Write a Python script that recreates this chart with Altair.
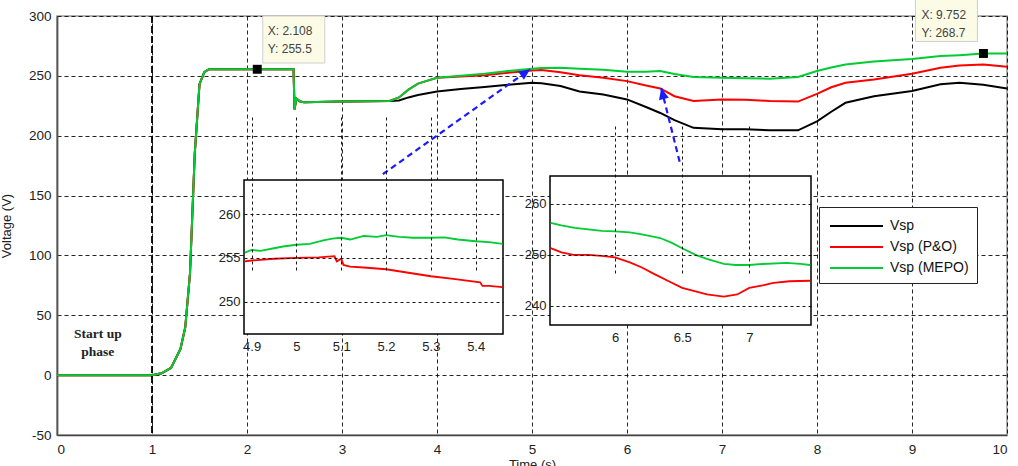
import altair as alt
import pandas as pd

FONT = "Liberation Sans"

# ---------------- data ----------------
SERIES = ["Vsp", "Vsp (P&O)", "Vsp (MEPO)"]
COLORS = ["#000000", "#ff0000", "#00cc33"]

# common start-up part (all three series coincide)
T_START = [0.0, 1.0, 1.1, 1.2, 1.3, 1.35, 1.4, 1.45, 1.5, 1.55, 1.6, 2.0, 2.49, 2.5, 2.52, 2.56, 2.6, 3.0, 3.5]
V_START = [0, 0, 1.5, 6, 22, 40, 85, 185, 243, 253, 255.5, 255.5, 255.5, 222, 231, 228.5, 228, 228.5, 229]

T_LATE = [3.6, 3.7, 3.8, 4.0, 4.25, 4.5, 4.75, 5.0, 5.1, 5.3, 5.5, 5.75, 6.0, 6.2, 6.35,
          6.5, 6.7, 7.0, 7.25, 7.5, 7.8, 8.0, 8.15, 8.3, 8.6, 9.0, 9.3, 9.5, 9.75, 10.0]
V_BLACK_LATE = [229.5, 232, 234, 237, 239, 240.6, 242.5, 244.2, 243.8, 241.5, 237, 234.5, 230.3, 224, 219,
                213, 206.6, 205.5, 205.5, 204.5, 204.5, 212, 220, 227.5, 233, 237.3, 242.9, 244.2, 242.5, 239.5]
V_RED_LATE = [232, 238.5, 243.5, 248.4, 249.5, 250.6, 252.5, 254.5, 254.8, 253, 250.6, 248.5, 245.6, 242, 239.5,
              233, 229, 230.3, 230, 229, 228.5, 235, 240.5, 244.2, 247, 251.7, 256.7, 258.7, 259.5, 257.6]
V_GREEN_LATE = [232, 238.5, 243.5, 248.4, 250, 251.7, 254, 256, 256.5, 256.8, 256, 255, 253.4, 253.5, 254,
                251.5, 249, 248.4, 248, 247.6, 249, 254, 257, 259.5, 262, 264, 266.5, 267.3, 268.7, 268.7]

# inset 1 (zoom around t = 5)
IN1_T_GREEN = [4.885, 4.9, 4.92, 4.95, 4.97, 5.0, 5.03, 5.06, 5.08, 5.1, 5.12, 5.15, 5.18, 5.2, 5.23, 5.26, 5.3, 5.33, 5.36, 5.4, 5.43, 5.46]
IN1_V_GREEN = [255.6, 255.9, 255.8, 256.1, 256.3, 256.5, 256.6, 257.0, 257.2, 257.3, 257.1, 257.5, 257.4, 257.6, 257.4, 257.3, 257.3, 257.35, 257.1, 256.9, 256.8, 256.6]
IN1_T_RED = [4.885, 4.9, 4.95, 5.0, 5.05, 5.085, 5.09, 5.1, 5.105, 5.12, 5.15, 5.2, 5.25, 5.3, 5.35, 5.41, 5.415, 5.43, 5.46]
IN1_V_RED = [254.6, 254.7, 254.9, 255.0, 255.05, 255.2, 254.6, 254.9, 254.2, 254.0, 253.9, 253.7, 253.3, 252.9, 252.6, 252.2, 251.8, 251.8, 251.65]
IN1_X_DOMAIN = [4.883, 5.461]
IN1_Y_DOMAIN = [246.3, 263.9]
IN1_X_TICKS = [4.9, 5.0, 5.1, 5.2, 5.3, 5.4]
IN1_Y_TICKS = [250, 255, 260]

# inset 2 (zoom around t = 6.5)
IN2_T_GREEN = [5.52, 5.6, 5.7, 5.8, 5.9, 6.0, 6.11, 6.2, 6.336, 6.42, 6.5, 6.6, 6.684, 6.81, 6.9, 7.0, 7.1, 7.28, 7.38, 7.455]
IN2_V_GREEN = [256.3, 255.8, 255.3, 255.0, 254.7, 254.6, 254.4, 254.0, 253.3, 252.4, 251.3, 250.0, 249.2, 248.2, 248.0, 248.0, 248.2, 248.4, 248.2, 248.0]
IN2_T_RED = [5.52, 5.6, 5.69, 5.8, 5.9, 6.0, 6.11, 6.2, 6.286, 6.4, 6.5, 6.6, 6.684, 6.81, 6.91, 7.0, 7.1, 7.18, 7.3, 7.455]
IN2_V_RED = [251.3, 250.5, 250.0, 250.0, 249.8, 249.5, 248.5, 247.5, 246.3, 244.8, 243.5, 242.8, 242.2, 241.8, 242.2, 243.5, 244.0, 244.5, 244.8, 244.9]
IN2_X_DOMAIN = [5.515, 7.46]
IN2_Y_DOMAIN = [236.2, 265.5]
IN2_X_TICKS = [6, 6.5, 7]
IN2_Y_TICKS = [240, 250, 260]

# annotations
TIP_T = [2.108, 9.752]
TIP_V = [255.5, 268.7]
TIP_LX = ["X: 2.108", "X: 9.752"]
TIP_LY = ["Y: 255.5", "Y: 268.7"]

STARTUP_T = [0.43, 0.43]
STARTUP_V = [34.3, 19.2]
STARTUP_TXT = ["Start up", "phase"]

ARROW_ID = ["a1", "a1", "a2", "a2"]
ARROW_T = [3.43, 4.98, 6.56, 6.36]
ARROW_V = [167.9, 255.6, 176.3, 239.8]
HEAD_T = [4.98, 6.36]
HEAD_V = [255.6, 239.8]
HEAD_ANGLE = [54.5, 346.0]

STARTUP_LINE_T = [1.0]

X_MAIN_DOMAIN = [0, 10]
Y_MAIN_DOMAIN = [-50, 300]
X_MAIN_TICKS = list(range(0, 11))
Y_MAIN_TICKS = list(range(-50, 301, 50))

# ---------------- tables ----------------
rows = []
for s, late in zip(SERIES, [V_BLACK_LATE, V_RED_LATE, V_GREEN_LATE]):
    for t, v in zip(T_START + T_LATE, V_START + late):
        rows.append({"t": t, "v": v, "series": s})
main_df = pd.DataFrame(rows)


def series_df(pairs):
    out = []
    for s, ts, vs in pairs:
        for t, v in zip(ts, vs):
            out.append({"t": t, "v": v, "series": s})
    return pd.DataFrame(out)


in1_df = series_df([(SERIES[1], IN1_T_RED, IN1_V_RED), (SERIES[2], IN1_T_GREEN, IN1_V_GREEN)])
in2_df = series_df([(SERIES[1], IN2_T_RED, IN2_V_RED), (SERIES[2], IN2_T_GREEN, IN2_V_GREEN)])

tips_df = pd.DataFrame({"t": TIP_T, "v": TIP_V, "lx": TIP_LX, "ly": TIP_LY, "k": [0, 1]})
startup_df = pd.DataFrame({"t": STARTUP_T, "v": STARTUP_V, "txt": STARTUP_TXT})
arrow_df = pd.DataFrame({"t": ARROW_T, "v": ARROW_V, "id": ARROW_ID})
head_df = pd.DataFrame({"t": HEAD_T, "v": HEAD_V, "ang": HEAD_ANGLE})
vline_df = pd.DataFrame({"t": STARTUP_LINE_T})

# ---------------- encodings ----------------
COLOR_SCALE = alt.Scale(domain=SERIES, range=COLORS)
LEGEND = alt.Legend(
    title=None, orient="none", legendX=762, legendY=191,
    symbolType="M-0.8,0H4.5", symbolSize=400, symbolStrokeWidth=2,
    labelFontSize=14, labelFont=FONT, labelColor="#111", labelOffset=41,
    padding=8, rowPadding=3, strokeColor="#222", fillColor="white",
)
COLOR = alt.Color("series:N", scale=COLOR_SCALE, legend=LEGEND, sort=SERIES)

MINUS_FIX = "replace(datum.label, '\u2212', '-')"
X_AXIS = alt.Axis(
    values=X_MAIN_TICKS, grid=True, gridDash=[4, 3], gridColor="#000", gridOpacity=0.85,
    ticks=False, domainColor="#444", domainWidth=1.5, labelFontSize=13.5, labelFont=FONT,
    labelColor="#222", labelPadding=7, title="Time (s)", titleFont=FONT, titleFontSize=13,
    titleFontWeight="normal", titleColor="#222", titleY=23, titleBaseline="top", zindex=0,
)
Y_AXIS = alt.Axis(
    values=Y_MAIN_TICKS, grid=True, gridDash=[4, 3], gridColor="#000", gridOpacity=0.85,
    ticks=False, domainColor="#555", domainWidth=1.8, labelFontSize=13.5, labelFont=FONT,
    labelColor="#222", labelPadding=6, labelExpr=MINUS_FIX,
    title="Voltage (V)", titleFont=FONT, titleFontSize=13,
    titleFontWeight="normal", titleColor="#222", titleX=-44, titleY=209.5, titleAngle=270,
    titleAlign="center", titleBaseline="bottom", zindex=0,
)
X_MAIN = alt.X("t:Q", scale=alt.Scale(domain=X_MAIN_DOMAIN, nice=False, zero=False), axis=X_AXIS)
Y_MAIN = alt.Y("v:Q", scale=alt.Scale(domain=Y_MAIN_DOMAIN, nice=False, zero=False), axis=Y_AXIS)

# ---------------- main layers ----------------
lines = alt.Chart(main_df).mark_line(strokeWidth=2).encode(x=X_MAIN, y=Y_MAIN, color=COLOR)

vline = alt.Chart(vline_df).mark_rule(color="#000", strokeWidth=1.8, strokeDash=[7, 3]).encode(x=X_MAIN)

startup = alt.Chart(startup_df).mark_text(
    font="Liberation Serif", fontWeight="bold", fontSize=13.5, color="#222"
).encode(x=X_MAIN, y=Y_MAIN, text="txt:N")

arrows = alt.Chart(arrow_df).mark_line(color="#1a1aff", strokeWidth=2.2, strokeDash=[6, 4]).encode(
    x=X_MAIN, y=Y_MAIN, detail="id:N"
)
heads = alt.Chart(head_df).mark_point(
    shape="M0,0L-0.45,1L0.45,1Z", filled=True, color="#1a1aff", opacity=1, size=500
).encode(x=X_MAIN, y=Y_MAIN, angle=alt.Angle("ang:Q", scale=None))

tip_layers = []
offsets = [(36.5, -29.75, 10.5), (-37.0, -35.5, -62.0)]
for k, (bx, by, tx) in enumerate(offsets):
    base = alt.Chart(tips_df).transform_filter(alt.datum.k == k)
    tip_layers.append(base.mark_rect(width=62, height=47, xOffset=bx, yOffset=by, fill="#fbfbe6",
                                     stroke="#cfcfcf", strokeWidth=1).encode(x=X_MAIN, y=Y_MAIN))
    tip_layers.append(base.mark_text(align="left", dx=tx, dy=-38, fontSize=12, font=FONT, color="#444")
                      .encode(x=X_MAIN, y=Y_MAIN, text="lx:N"))
    tip_layers.append(base.mark_text(align="left", dx=tx, dy=-20, fontSize=12, font=FONT, color="#444")
                      .encode(x=X_MAIN, y=Y_MAIN, text="ly:N"))
markers = alt.Chart(tips_df).mark_square(size=80, color="#000", filled=True, opacity=1).encode(x=X_MAIN, y=Y_MAIN)

main = alt.layer(lines, vline, startup, arrows, heads, *tip_layers, markers)


# ---------------- insets ----------------
def inset(df, xdom, ydom, xrange, yrange, xticks, yticks, xoff, yoff):
    xs = alt.Scale(domain=xdom, range=xrange, nice=False, zero=False)
    ys = alt.Scale(domain=ydom, range=yrange, nice=False, zero=False)
    xa = alt.Axis(orient="bottom", offset=xoff, values=xticks, format="~g", grid=True, gridDash=[3, 3],
                  gridColor="#000", gridOpacity=0.9, ticks=False, domain=False, labelFontSize=13,
                  labelFont=FONT, labelColor="#222", labelPadding=6, title=None, zindex=1)
    ya = alt.Axis(orient="left", offset=yoff, values=yticks, format="d", grid=True, gridDash=[3, 3],
                  gridColor="#000", gridOpacity=0.9, ticks=False, domain=False, labelFontSize=13,
                  labelFont=FONT, labelColor="#222", labelPadding=4, title=None, zindex=1)
    frame_df = pd.DataFrame({"t": [xdom[0]], "t2": [xdom[1]], "v": [ydom[0]], "v2": [ydom[1]]})
    frame = alt.Chart(frame_df).mark_rect(fill="white", stroke="#000", strokeWidth=1.5).encode(
        x=alt.X("t:Q", scale=xs, axis=xa), x2="t2:Q",
        y=alt.Y("v:Q", scale=ys, axis=ya), y2="v2:Q",
    )
    ln = alt.Chart(df).mark_line(strokeWidth=1.8).encode(
        x=alt.X("t:Q", scale=xs, axis=xa), y=alt.Y("v:Q", scale=ys, axis=ya), color=COLOR
    )
    return alt.layer(frame, ln)


PLOT_W, PLOT_H = 950, 419
inset1 = inset(in1_df, IN1_X_DOMAIN, IN1_Y_DOMAIN, [187, 446], [318, 164], IN1_X_TICKS, IN1_Y_TICKS,
               318 - PLOT_H, -187)
inset2 = inset(in2_df, IN2_X_DOMAIN, IN2_Y_DOMAIN, [493, 754], [309, 160], IN2_X_TICKS, IN2_Y_TICKS,
               309 - PLOT_H, -493)

chart = alt.layer(main, inset1, inset2).resolve_scale(
    x="independent", y="independent"
).properties(
    width=PLOT_W, height=PLOT_H,
    padding={"left": 57, "top": 16, "right": 11, "bottom": 31},
    autosize=alt.AutoSizeParams(type="none"),
    background="white",
).configure_view(stroke="#999", strokeWidth=1.5)

chart.save("out.html", embed_options={"renderer": "svg", "actions": False})
